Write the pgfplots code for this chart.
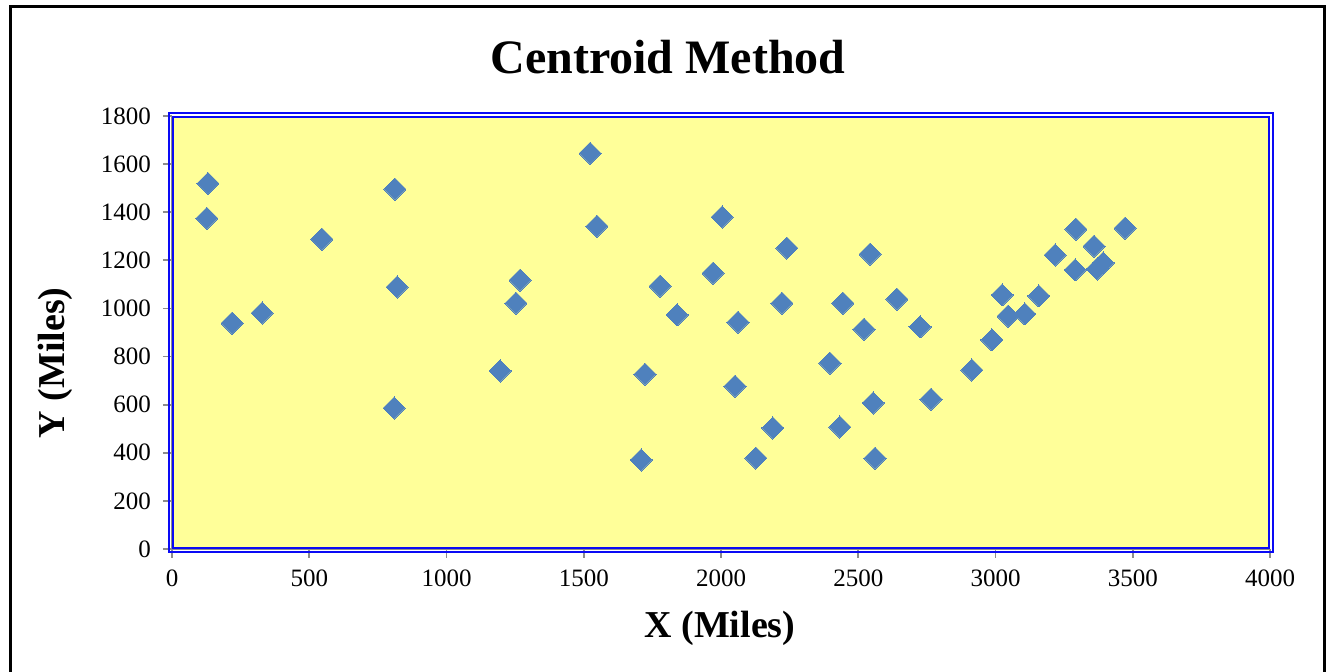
\documentclass[border=0pt]{standalone}
\usepackage{fontspec}
\setmainfont{Liberation Serif}
\usepackage{pgfplots}
\pgfplotsset{compat=1.18}
\definecolor{plotyellow}{HTML}{FFFF99}
\definecolor{markblue}{HTML}{4F81BD}
\definecolor{framegray}{HTML}{8C8C8C}
\definecolor{frameblue}{HTML}{0A0AF5}
\begin{document}
\begin{tikzpicture}
\useasboundingbox (0,0) rectangle (663.5pt,336pt);
% outer chart border
\draw[line width=1.5pt, black] (5.25pt,-10pt) rectangle (662pt,332.5pt);
\begin{axis}[
  at={(86pt,61.5pt)}, anchor=south west,
  scale only axis, width=549pt, height=216.5pt,
  xmin=0, xmax=4000, ymin=0, ymax=1800,
  xtick={0,500,...,4000}, ytick={0,200,...,1800},
  axis x line*=bottom, axis y line*=left,
  axis line style={framegray, line width=0.9pt, -},
  tick align=outside, major tick length=4.5pt,
  tick style={framegray, line width=0.9pt},
  axis background/.style={fill=plotyellow},
  /pgf/number format/assume math mode=true,
  /pgf/number format/1000 sep={},
  tick label style={font=\fontsize{12.5}{14}\selectfont},
  yticklabel style={xshift=-2.5pt},
  xticklabel style={yshift=-2.5pt},
  title={Centroid Method},
  title style={font=\bfseries\fontsize{24}{28}\selectfont, at={(axis description cs:0.4517,1.0993)}, anchor=base, yshift=-6.5pt},
  xlabel={X (Miles)},
  xlabel style={font=\bfseries\fontsize{19}{22}\selectfont, at={(axis description cs:0.499,-0.2055)}, anchor=base},
  ylabel={Y (Miles)},
  ylabel style={font=\bfseries\fontsize{19}{22}\selectfont, at={(axis description cs:-0.0975,0.4296)}, anchor=base},
  clip=false,
]
% plot area frame (double blue line)
\draw[frameblue, line width=1pt] ([xshift=-1.5pt,yshift=-1.5pt]rel axis cs:0,0) rectangle ([xshift=1.5pt,yshift=1.5pt]rel axis cs:1,1);
\draw[frameblue, line width=1pt] ([xshift=0.3pt,yshift=0.3pt]rel axis cs:0,0) rectangle ([xshift=-0.3pt,yshift=-0.3pt]rel axis cs:1,1);
\addplot[only marks, mark=square*, mark size=3.9pt,
  mark options={rotate=45, fill=markblue, draw=markblue, line width=0pt}]
  coordinates {
  (127,1375) (131,1520) (219,939) (328,981) (546,1288)
  (812,1496) (820,1089) (809,586) (1195,740) (1253,1022)
  (1268,1118) (1523,1645) (1548,1342) (1709,370) (1723,727)
  (1778,1093) (1840,973) (1971,1147) (2004,1380) (2062,943)
  (2051,677) (2189,503) (2127,378) (2222,1022) (2240,1251)
  (2397,773) (2433,507) (2444,1022) (2521,914) (2543,1226)
  (2554,607) (2561,378) (2641,1039) (2725,923) (2765,623)
  (2914,744) (2987,869) (3024,1056) (3046,968) (3107,977)
  (3158,1052) (3217,1222) (3290,1160) (3293,1330) (3359,1259)
  (3370,1164) (3392,1189) (3472,1334)
  };
\end{axis}
\end{tikzpicture}
\end{document}
